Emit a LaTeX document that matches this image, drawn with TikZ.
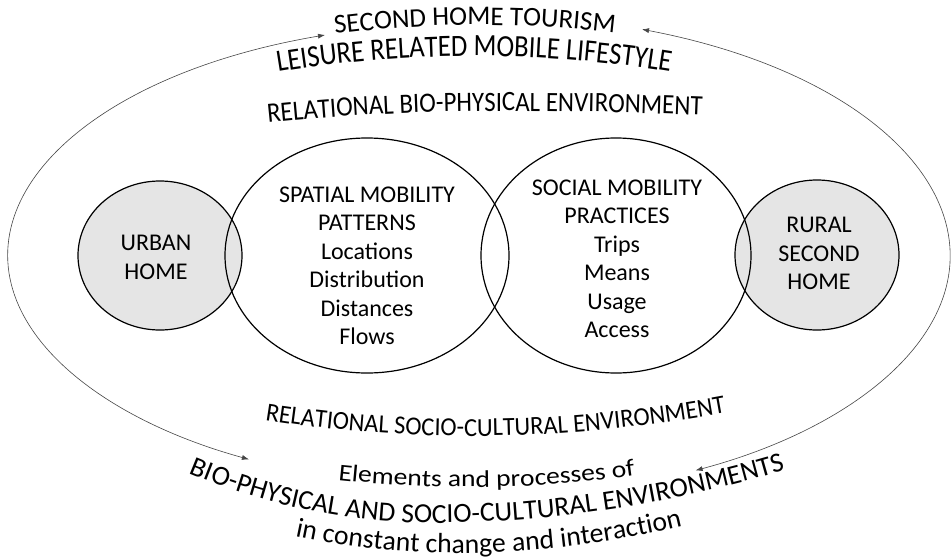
\documentclass[tikz,border=0pt]{standalone}
\usepackage{fontspec}
\setmainfont{Carlito}
\newfontfamily\fontTall[FakeStretch=0.86]{Carlito}
\newfontfamily\fontMid[FakeStretch=0.89]{Carlito}
\newfontfamily\fontSl[FakeStretch=0.94]{Carlito}
\newfontfamily\fontWide[FakeStretch=1.15]{Carlito}
\usetikzlibrary{shapes.geometric,decorations.text,arrows.meta}
\definecolor{homegray}{RGB}{229,229,229}
\definecolor{arcgray}{RGB}{70,70,70}
\tikzset{
  homeshape/.style={ellipse, draw=black, line width=1.2pt, fill=homegray, inner sep=0pt},
  mobshape/.style={ellipse, draw=black, line width=1.2pt, inner sep=0pt},
  lbl/.style={align=center, inner sep=0pt, font=\fontsize{24}{28.5}\selectfont},
  outerarc/.style={draw=arcgray, line width=0.6pt, {Latex[length=7pt,width=5pt]}-{Latex[length=7pt,width=5pt]}},
  curvedtext/.style={decorate, decoration={text along path, text align=left, text={#1}}}
}
\begin{document}
\begin{tikzpicture}[x=1pt,y=-1pt]
\fill[white] (0,0) rectangle (951,557);
\useasboundingbox (0,0) rectangle (951,557);

% outer arcs
\coordinate (lt) at (325,35);
\coordinate (rt) at (642,29.3);
\draw[outerarc] (lt) arc[start angle=251.2, end angle=119, x radius=468, y radius=233];
\draw[outerarc] (rt) arc[start angle=-69.5, end angle=62.4, x radius=474, y radius=242];

% home ellipses
\node[homeshape, minimum width=164, minimum height=149] (urban) at (160,255.5) {};
\node[homeshape, minimum width=164, minimum height=150] (rural) at (817,255) {};
% mobility ellipses
\node[mobshape, minimum width=284, minimum height=235] (spatial) at (367,255.5) {};
\node[mobshape, minimum width=270, minimum height=235] (social) at (616,255.5) {};

% labels
\node[lbl] (urbanT) at (156,257.5) {URBAN\\HOME};
\node[lbl] (ruralT) at (819,253.5) {RURAL\\SECOND\\HOME};
\node[lbl] (spatialT) at (367,266) {SPATIAL MOBILITY\\PATTERNS\\Locations\\Distribution\\Distances\\Flows};
\node[lbl] (socialT) at (617,259) {SOCIAL MOBILITY\\PRACTICES\\Trips\\Means\\Usage\\Access};

% curved texts
\path[curvedtext={|\fontsize{27}{27}\selectfont|SECOND HOME TOURISM}] (335,34) parabola bend (478,25) (700,46);
\path[curvedtext={|\fontTall\fontsize{31}{31}\selectfont|LEISURE RELATED MOBILE LIFESTYLE}] (278,72) parabola bend (475,56) (735,84);
\path[curvedtext={|\fontMid\fontsize{28}{28}\selectfont|RELATIONAL BIO-PHYSICAL ENVIRONMENT}] (268,123) parabola bend (500,111) (760,118);
\path[curvedtext={|\fontSl\fontsize{26}{26}\selectfont|RELATIONAL SOCIO-CULTURAL ENVIRONMENT}] (265,420) parabola bend (470,436) (790,399);
\path[curvedtext={|\fontWide\fontsize{24}{24}\selectfont|Elements and processes of}] (338,480) parabola bend (472,487) (700,465);
\path[curvedtext={|\fontsize{27.6}{27.6}\selectfont|BIO-PHYSICAL AND SOCIO-CULTURAL ENVIRONMENTS}] (189,473) parabola bend (430,523) (840,452);
\path[curvedtext={|\fontsize{27.7}{27.7}\selectfont|in constant change and interaction}] (295,536) parabola bend (458,553) (760,504);
\end{tikzpicture}
\end{document}
